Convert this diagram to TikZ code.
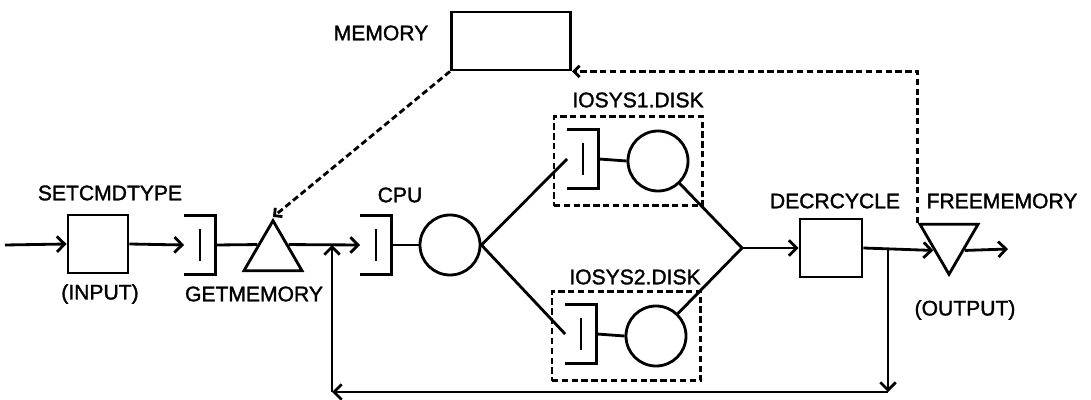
\documentclass[tikz,border=0pt]{standalone}
\usepackage{fontspec}
\setmainfont{Liberation Sans}[FakeBold=1.5]
\usetikzlibrary{arrows.meta,positioning,fit,shapes.geometric}
\tikzset{
  ln/.style  ={line width=2pt},
  arr/.style ={ln, -{Straight Barb[length=5.5pt,width=11pt]}},
  darr/.style={ln, dash pattern=on 4.5pt off 2.5pt,
               -{Straight Barb[length=4pt,width=8pt]}},
  dln/.style ={ln, dash pattern=on 4.5pt off 2.5pt},
  blk/.style ={draw, ln, minimum width=1.5cm, minimum height=1.45cm,
               inner sep=0pt},
  srv/.style ={draw, ln, circle, minimum size=1.5cm, inner sep=0pt},
  que/.style ={minimum width=0.78cm, minimum height=1.45cm, inner sep=0pt},
  tri/.style ={draw, ln, isosceles triangle, isosceles triangle stretches,
               inner sep=0pt, minimum width=1.45cm, minimum height=1.25cm,
               anchor=apex},
  uptri/.style  ={tri, shape border rotate=90},
  downtri/.style={tri, shape border rotate=270},
  dbox/.style={draw, dln, inner sep=0.33cm},
  lbl/.style ={font=\fontsize{15}{18}\selectfont, inner sep=0pt},
}

\begin{document}
\begin{tikzpicture}[x=0.025cm,y=-0.025cm]
  \useasboundingbox (0,0) rectangle (1091,400);
  % main line
  \coordinate (in) at (5,245);
  \node[blk] (setcmd) at (98,244) {};
  \node[que] (qget) at (200,245) {};
  \node[uptri] (getmem) at (273,217) {};
  \node[que] (qcpu) at (376,245) {};
  \node[srv] (cpu) at (450,245) {};
  % io subsystems
  \node[que] (qio1) at (583,159) {};
  \node[srv] (disk1) at (658,161) {};
  \node[que] (qio2) at (581,334) {};
  \node[srv] (disk2) at (656,336) {};
  \node[dbox, fit=(qio1)(disk1)] (io1) {};
  \node[dbox, fit=(qio2)(disk2)] (io2) {};
  \coordinate (join) at (742,248);
  \node[blk, minimum width=1.55cm] (decr) at (831,248) {};
  \node[downtri] (free) at (949,278) {};
  \coordinate (out) at (1008,249);
  \node[blk, minimum width=2.98cm] (mem) at (511,41) {};
  % feedback corners
  \coordinate (fbout) at (888,248);
  \coordinate (fbdn) at (888,392);
  \coordinate (fbl) at (332,392);
  \coordinate (fbin) at (332,245);

  % queue brackets
  \foreach \q in {qget,qcpu,qio1,qio2}{
    \draw[ln] (\q.north west) -- (\q.north east) -- (\q.south east)
      -- (\q.south west);
    \draw[ln] ([yshift=-0.33cm]\q.north) -- ([yshift=0.33cm]\q.south);
  }

  % labels
  \node[lbl] (lsetcmd) at (110,193) {SETCMDTYPE};
  \node[lbl] (linput)  at (100,294) {(INPUT)};
  \node[lbl] (lgetmem) at (254,294) {GETMEMORY};
  \node[lbl] (lmem)    at (381,33)  {MEMORY};
  \node[lbl] (lcpu)    at (400,195) {CPU};
  \node[lbl] (lio1)    at (638,100) {IOSYS1.DISK};
  \node[lbl] (lio2)    at (635,277) {IOSYS2.DISK};
  \node[lbl] (ldecr)   at (835,201) {DECRCYCLE};
  \node[lbl] (lfree)   at (1002,201) {FREEMEMORY};
  \node[lbl] (lout)    at (965,310) {(OUTPUT)};

  % connectors
  \draw[arr] (in) -- (setcmd.west);
  \draw[arr] (setcmd.east) -- (qget.west);
  \draw[ln] (qget.east) -- (getmem.left side);
  \draw[arr] (getmem.right side) -- (qcpu.west);
  \draw[ln] (qcpu.east) -- (cpu.west);
  \draw[ln] (cpu.east) -- (qio1.west);
  \draw[ln] (cpu.east) -- (qio2.west);
  \draw[ln] (qio1.east) -- (disk1.west);
  \draw[ln] (qio2.east) -- (disk2.west);
  \draw[ln] (disk1) -- (join);
  \draw[ln] (disk2) -- (join);
  \draw[arr] (join) -- (decr.west);
  \draw[arr] (decr.east) -- (free.right side);
  \draw[arr] (free.left side) -- (out);
  \draw[arr] (fbout) -- (fbdn);
  \draw[arr] (fbdn) -- (fbl);
  \draw[arr] (fbl) -- (fbin);
  \draw[darr] (free.right corner) |- (mem.south east);
  \draw[darr] (mem.south west) -- (getmem.apex);
\end{tikzpicture}
\end{document}
